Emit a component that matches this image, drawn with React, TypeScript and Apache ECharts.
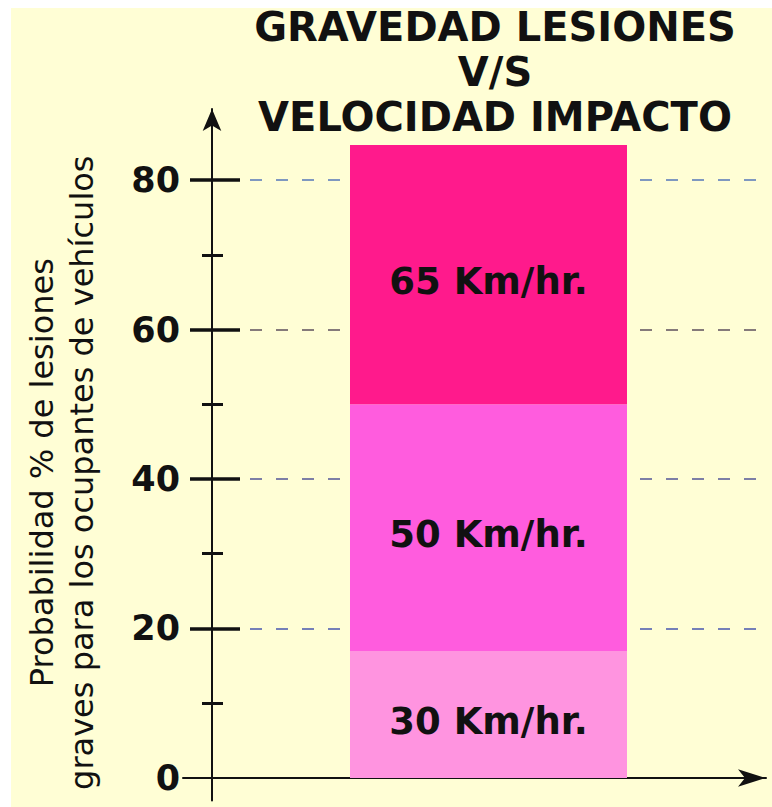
import React, { useEffect, useRef } from "react";
import * as echarts from "echarts";

const categories = ["Velocidad de impacto"];
const speedNames = ["30 Km/hr.", "50 Km/hr.", "65 Km/hr."];
const speedValues = [17, 33, 34.7];
const speedColors = ["#FF94E0", "#FF5CDE", "#FF1A8C"];
const yTickLabels = [0, 20, 40, 60, 80];
const majorTicks = [20, 40, 60, 80];
const minorTicks = [10, 30, 50, 70];
const titleLines = ["GRAVEDAD LESIONES", "V/S", "VELOCIDAD IMPACTO"];
const yNameLines = ["Probabilidad % de lesiones", "graves para los ocupantes de vehículos"];

const Y_MIN = -3;
const Y_MAX = 89.5;

export default function App() {
  const ref = useRef<HTMLDivElement>(null);
  useEffect(() => {
    if (!ref.current) return;
    const chart = echarts.init(ref.current, null, { renderer: "svg" });
    const tickAxis = (vals: number[], inside: boolean, len: number, w: number) => ({
      type: "value",
      gridIndex: 0,
      position: "left",
      min: Y_MIN,
      max: Y_MAX,
      axisLine: { show: false },
      axisLabel: { show: false },
      splitLine: { show: false },
      axisTick: {
        show: true,
        customValues: vals,
        inside,
        length: len,
        lineStyle: { color: "#111", width: w },
      },
    });
    chart.setOption({
      animation: false,
      backgroundColor: "#FFFED5",
      title: {
        text: titleLines.join("\n"),
        left: 495,
        top: 4,
        padding: 0,
        textAlign: "center",
        textStyle: {
          fontFamily: "DejaVu Sans",
          fontWeight: "bold",
          fontSize: 40,
          lineHeight: 45,
          color: "#111",
        },
      },
      graphic: [
        { type: "rect", shape: { x: 0, y: 0, width: 772, height: 8 }, style: { fill: "#fff" }, silent: true },
        { type: "rect", shape: { x: 0, y: 0, width: 11, height: 807 }, style: { fill: "#fff" }, silent: true },
      ],
      grid: [
        { left: 212, right: 7, top: 109, bottom: 6.6 },
        { left: 183, right: 6, top: 120, bottom: 29 },
        { left: 250, right: 10, top: 180, bottom: 29 },
      ],
      xAxis: [
        { type: "category", gridIndex: 0, data: categories, show: false },
        {
          type: "value",
          gridIndex: 1,
          min: 0,
          max: 1,
          axisLine: {
            show: true,
            symbol: ["none", "arrow"],
            symbolSize: [13, 28],
            lineStyle: { color: "#111", width: 2 },
          },
          axisTick: { show: false },
          axisLabel: { show: false },
          splitLine: { show: false },
        },
        { type: "value", gridIndex: 2, min: 0, max: 1, show: false },
      ],
      yAxis: [
        {
          type: "value",
          gridIndex: 0,
          position: "left",
          min: Y_MIN,
          max: Y_MAX,
          name: yNameLines.join("\n"),
          nameLocation: "middle",
          nameRotate: 90,
          nameGap: 110,
          nameTextStyle: {
            fontFamily: "DejaVu Sans",
            fontSize: 32,
            lineHeight: 40,
            color: "#111",
            padding: [0, 36, 0, 0],
          },
          axisLine: {
            show: true,
            symbol: ["none", "arrow"],
            symbolSize: [14, 22],
            lineStyle: { color: "#111", width: 2 },
          },
          axisTick: {
            show: true,
            customValues: majorTicks,
            inside: false,
            length: 22,
            lineStyle: { color: "#111", width: 3.5 },
          },
          axisLabel: {
            customValues: yTickLabels,
            margin: 32,
            fontFamily: "DejaVu Sans",
            fontWeight: "bold",
            fontSize: 35,
            color: "#111",
          },
          splitLine: { show: false },
        },
        tickAxis(majorTicks, true, 28, 3.5),
        tickAxis(minorTicks, false, 10, 3),
        tickAxis(minorTicks, true, 11, 3),
        { type: "value", gridIndex: 1, min: 0, max: 1, show: false },
        {
          type: "value",
          gridIndex: 2,
          min: 0,
          max: 80,
          interval: 20,
          axisLine: { show: false },
          axisTick: { show: false },
          axisLabel: { show: false },
          splitLine: {
            show: true,
            lineStyle: {
              type: [12, 14],
              width: 2,
              color: ["#5aa6d6", "#7580b8", "#7d7fa6", "#857a7a", "#7f98c0"],
            },
          },
        },
      ],
      series: speedNames.map((name, i) => ({
        name,
        type: "bar",
        stack: "total",
        xAxisIndex: 0,
        yAxisIndex: 0,
        barWidth: 277,
        data: [speedValues[i]],
        itemStyle: { color: speedColors[i] },
        z: 3,
        label: {
          show: true,
          position: "inside",
          formatter: "{a}",
          offset: [0, 7],
          fontFamily: "DejaVu Sans",
          fontWeight: "bold",
          fontSize: 37,
          color: "#111",
        },
      })),
    });
    return () => chart.dispose();
  }, []);
  return (
    <div
      ref={ref}
      style={{ position: "absolute", left: 0, top: 0, width: 772, height: 807 }}
    />
  );
}
